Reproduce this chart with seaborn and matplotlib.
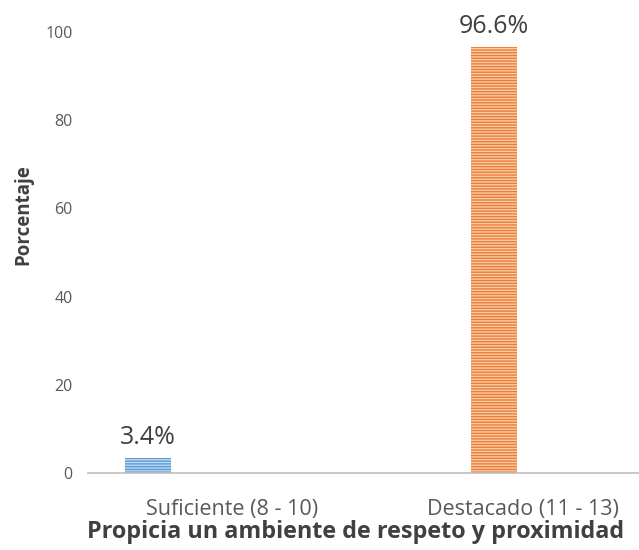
import matplotlib
matplotlib.use("Agg")
import matplotlib.pyplot as plt
import seaborn as sns
import pandas as pd

categories = ["Suficiente (8 - 10)", "Destacado (11 - 13)"]
values = [3.4, 96.6]
value_labels = ["3.4%", "96.6%"]
bar_colors = ["#5B9BD5", "#ED7D31"]
stripe_colors = ["#BDD7EE", "#F8CBAD"]
title = "Propicia un ambiente de respeto y proximidad"
ylabel = "Porcentaje"

sns.set_style("white")
plt.rcParams["font.family"] = ["Open Sans", "DejaVu Sans"]
plt.rcParams["hatch.linewidth"] = 1.0

df = pd.DataFrame({"cat": categories, "val": values})

fig = plt.figure(figsize=(6.39, 5.5), dpi=100)
ax = fig.add_axes([88 / 639, 1 - 473 / 550, 1 - 88 / 639, 441 / 550])

sns.barplot(data=df, x="cat", y="val", hue="cat", palette=bar_colors,
            width=0.133, legend=False, ax=ax, saturation=1)

for patch, sc in zip(ax.patches, stripe_colors):
    patch.set_hatch("------")
    patch.set_edgecolor(sc)
    patch.set_linewidth(0)

for i, (v, lab) in enumerate(zip(values, value_labels)):
    ax.text(i, v + 1.8, lab, ha="center", va="bottom", fontsize=18,
            color="#404040")

ax.set_xlim(-0.1734, 1.419)
ax.set_ylim(0, 100)
ax.set_yticks([0, 20, 40, 60, 80, 100])
# category labels sit to the right of their bars
ax.set_xticks([0.243, 1.084], categories)
ax.tick_params(axis="y", length=0, labelsize=11.5, labelcolor="#595959", pad=11)
ax.tick_params(axis="x", length=0, labelsize=15.5, labelcolor="#595959", pad=19)

for s in ["top", "right", "left"]:
    ax.spines[s].set_visible(False)
ax.spines["bottom"].set_color("#BFBFBF")
ax.spines["bottom"].set_linewidth(1.2)

ax.set_xlabel(title, fontsize=16.8, fontweight="bold", color="#404040")
ax.set_ylabel(ylabel, fontsize=13.5, fontweight="bold", color="#404040")
ax.xaxis.set_label_coords((356 - 88) / 551, -(532 - 473) / 441)
ax.yaxis.set_label_coords(-(88 - 23) / 551, (473 - 215) / 441)
ax.yaxis.label.set_va("center")
ax.xaxis.label.set_va("center")

fig.savefig("out.png", dpi=100)
